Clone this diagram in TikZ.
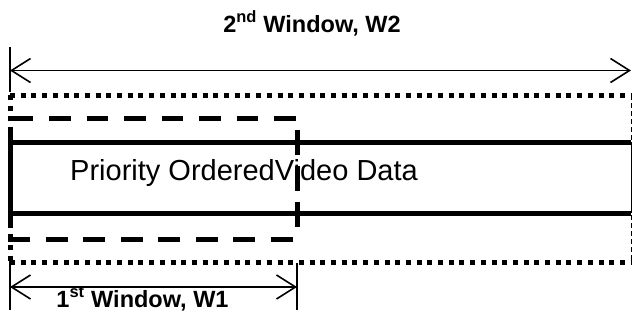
\documentclass[tikz,border=0pt]{standalone}
\usepackage{fontspec}
\setmainfont{Liberation Sans}
\usetikzlibrary{arrows.meta}
\begin{document}
\begin{tikzpicture}[x=1pt,y=-1pt,
  thickdot/.style={line width=5pt, dash pattern=on 5pt off 5.7pt},
  thickdash/.style={line width=5pt, dash pattern=on 21.7pt off 15.8pt},
  thicksolid/.style={line width=5pt},
  thindash/.style={line width=1pt, dash pattern=on 5pt off 3pt},
  barb/.tip={Straight Barb[length=19pt,width=24pt,line width=1.6pt]},
  dimline/.style={line width=1.5pt, barb-barb},
  ticks/.style={line width=1.8pt},
  boldlabel/.style={font=\fontsize{23.5}{28}\selectfont\bfseries, inner sep=0pt, anchor=base},
  datalabel/.style={font=\fontsize{29}{34}\selectfont, inner sep=0pt, anchor=base west}]
\useasboundingbox (0,0) rectangle (632,325);
% coordinates
\coordinate (tl) at (10,70.5);
\coordinate (tr) at (631,70.5);
\coordinate (bl) at (10,287);
\coordinate (br) at (297,287);
% labels
\node[boldlabel] (w2) at (312,32) {2\textsuperscript{nd} Window, W2};
\node[boldlabel] (w1) at (142.5,307) {1\textsuperscript{st} Window, W1};
\node[datalabel] (data) at (70,180) {Priority OrderedVideo Data};
% dotted window W2
\draw[thickdot] (10,95) -- (631,95);
\draw[thickdot] (10,262.5) -- (631,262.5);
\draw[thickdot] (10,95) -- (10,262.5);
\draw[thindash] (631,95) -- (631,262.5);
% dashed window W1
\draw[thickdash] (11.7,118) -- (297,118);
\draw[thickdash] (8.3,239) -- (297,239);
\draw[line width=5pt, dash pattern=on 25pt off 11pt] (297,130) -- (297,228);
% solid data box
\draw[thicksolid] (10,142) -- (631,142);
\draw[thicksolid] (10,213) -- (631,213);
\draw[line width=1pt] (631,142) -- (631,213);
\draw[thicksolid] (10,130) -- (10,228);
% dimension arrows
\draw[ticks] (10,47) -- (10,92);
\draw[dimline] (tl) -- (tr);
\draw[ticks] (10,258) -- (10,310);
\draw[ticks] (297,263) -- (297,310);
\draw[dimline] (bl) -- (br);
\end{tikzpicture}
\end{document}
